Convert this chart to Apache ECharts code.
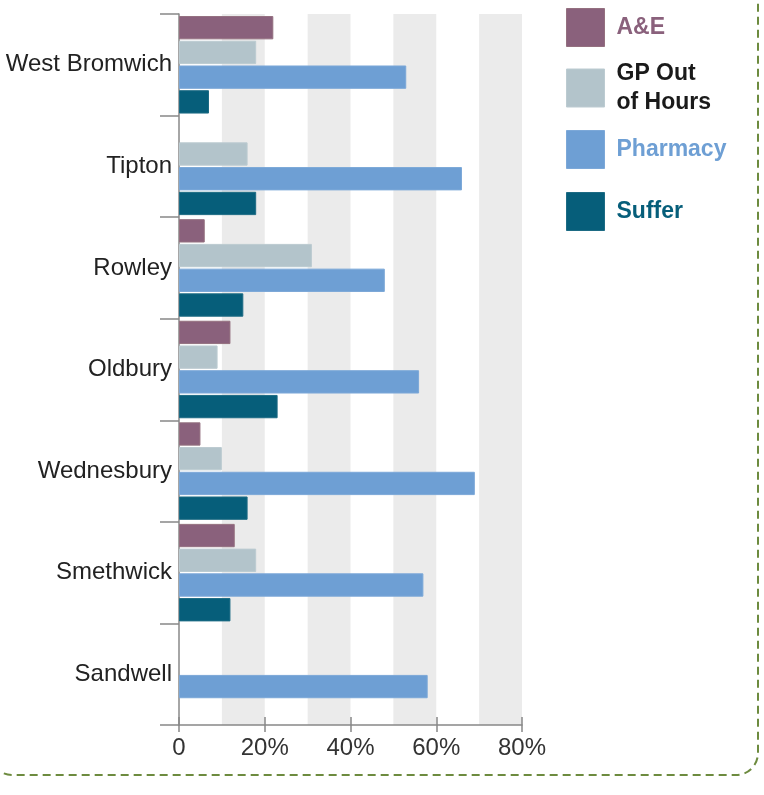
<!DOCTYPE html>
<html>
<head>
<meta charset="utf-8">
<script src="https://cdn.jsdelivr.net/npm/echarts@6/dist/echarts.min.js"></script>
<style>
  html, body { margin: 0; padding: 0; background: #fff; }
  #chart { width: 764px; height: 795px; }
</style>
</head>
<body>
<div id="chart"></div>
<script>
// categories, top to bottom
const categories = ['West Bromwich', 'Tipton', 'Rowley', 'Oldbury', 'Wednesbury', 'Smethwick', 'Sandwell']
const seriesNames = ['A&E', 'GP Out of Hours', 'Pharmacy', 'Suffer']
// values in percent (null = no bar)
const aeValues = [22, null, 6, 12, 5, 13, null]
const gpValues = [18, 16, 31, 9, 10, 18, null]
const pharmacyValues = [53, 66, 48, 56, 69, 57, 58]
const sufferValues = [7, 18, 15, 23, 16, 12, null]
const xTickLabels = ['0', '20%', '40%', '60%', '80%']

const colors = ['#8a617c', '#b3c4cb', '#6e9fd4', '#065e7a']
const borders = ['#94707f', '#bccbd1', '#7ca8d8', '#1d6b84']
const legendText = ['#8a617c', '#1a1a1a', '#6e9fd4', '#065e7a']
const fontFamily = '"Liberation Sans", Arial, sans-serif'

const chart = echarts.init(document.getElementById('chart'))

const makeBar = (i, data) => ({
  name: seriesNames[i],
  type: 'bar',
  xAxisIndex: 0,
  data: data,
  barGap: '6%',
  barCategoryGap: '4%',
  itemStyle: { color: colors[i], borderColor: borders[i], borderWidth: 1 }
})

// one legend block per item so the spacing can be set exactly
const legendTops = [8, 59, 130, 192]
const legends = seriesNames.map((name, i) => ({
  data: [{ name: name, textStyle: { color: legendText[i] } }],
  left: 566,
  top: legendTops[i],
  padding: 0,
  itemWidth: 38,
  itemHeight: 38,
  icon: 'rect',
  selectedMode: false,
  itemStyle: { borderColor: borders[i], borderWidth: 1 },
  formatter: n => n === 'GP Out of Hours' ? 'GP Out\nof Hours' : n,
  textStyle: {
    fontFamily: fontFamily,
    fontSize: 23,
    fontWeight: 'bold',
    lineHeight: 29,
    padding: [0, 0, 0, 7]
  }
}))

const option = {
  animation: false,
  textStyle: { fontFamily: fontFamily },
  legend: legends,
  grid: { left: 179, right: 242, top: 14, bottom: 70, containLabel: false },
  graphic: [{
    type: 'rect',
    silent: true,
    z: -10,
    shape: { x: -10, y: -40, width: 768, height: 815, r: 22 },
    style: { fill: 'none', stroke: '#6d8b3f', lineWidth: 2, lineDash: [8, 5] }
  }],
  xAxis: [
    {
      type: 'value',
      position: 'bottom',
      min: 0,
      max: 80,
      interval: 20,
      axisLine: { show: true, lineStyle: { color: '#888', width: 1.5 } },
      axisTick: { show: true, length: 7, lineStyle: { color: '#888', width: 1.5 } },
      axisLabel: {
        margin: 11,
        fontSize: 24,
        color: '#333',
        formatter: v => xTickLabels[Math.round(v / 20)]
      },
      splitLine: { show: false }
    },
    {
      // bands every 10%
      type: 'value',
      position: 'bottom',
      min: 0,
      max: 80,
      interval: 10,
      axisLine: { show: false },
      axisTick: { show: false },
      axisLabel: { show: false },
      splitLine: { show: false },
      splitArea: { show: true, areaStyle: { color: ['rgba(0,0,0,0)', '#ebebeb'] } }
    },
    {
      // tick stubs above the axis line
      type: 'value',
      position: 'bottom',
      min: 0,
      max: 80,
      interval: 20,
      axisLine: { show: false },
      axisTick: { show: true, inside: true, length: 8, lineStyle: { color: '#888', width: 1.5 } },
      axisLabel: { show: false },
      splitLine: { show: false }
    }
  ],
  yAxis: {
    type: 'category',
    inverse: true,
    data: categories,
    axisLine: { show: true, lineStyle: { color: '#888', width: 1.5 } },
    axisTick: { show: true, length: 19, lineStyle: { color: '#888', width: 1.5 } },
    axisLabel: { margin: 7, fontSize: 24, color: '#222' }
  },
  series: [
    makeBar(0, aeValues),
    makeBar(1, gpValues),
    makeBar(2, pharmacyValues),
    makeBar(3, sufferValues)
  ]
}

chart.setOption(option)
</script>
</body>
</html>
